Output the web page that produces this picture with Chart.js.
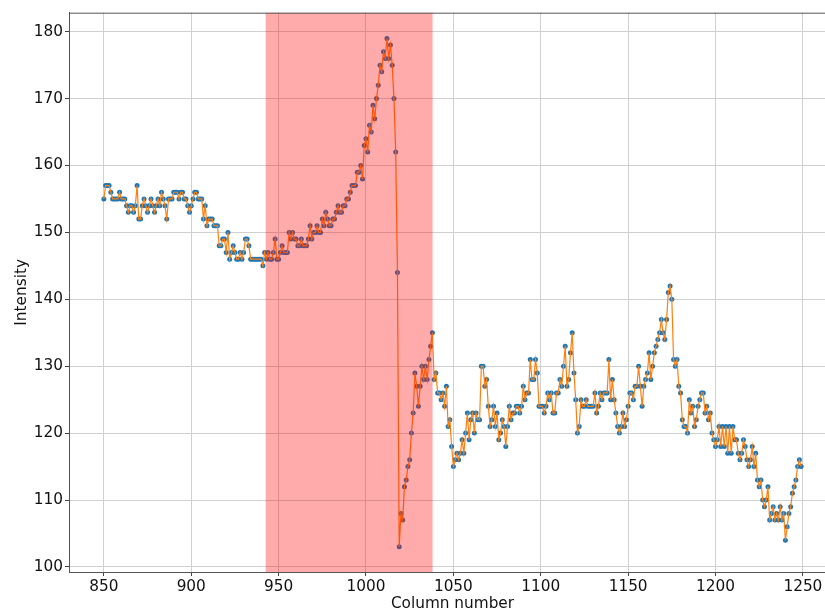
<!DOCTYPE html>
<html>
<head>
<meta charset="utf-8">
<script src="https://cdn.jsdelivr.net/npm/chart.js@4/dist/chart.umd.min.js"></script>
<style>
  html, body { margin: 0; padding: 0; background: #fff; overflow: hidden; }
  #wrap { width: 825px; height: 614px; overflow: hidden; }
</style>
</head>
<body>
<div id="wrap"><canvas id="chartCanvas" width="840" height="614"></canvas></div>
<script>
// first column of the profile, one value per column after that
const firstColumn = 850;

const intensity = [
  155, 157, 157, 157, 156, 155, 155, 155, 155, 156, // 850
  155, 155, 155, 154, 153, 154, 154, 153, 154, 157,
  152, 152, 154, 155, 154, 153, 154, 155, 154, 153,
  154, 155, 154, 156, 155, 154, 152, 155, 155, 155,
  156, 156, 156, 155, 156, 156, 155, 155, 154, 153,
  154, 155, 156, 156, 155, 155, 155, 152, 154, 151, // 900
  152, 152, 152, 151, 151, 151, 148, 148, 149, 149,
  147, 150, 146, 147, 148, 147, 146, 146, 147, 146,
  147, 149, 149, 148, 146, 146, 146, 146, 146, 146,
  146, 145, 147, 146, 147, 146, 146, 147, 149, 146,
  146, 147, 148, 147, 147, 147, 150, 149, 150, 149, // 950
  149, 148, 148, 149, 148, 148, 148, 149, 151, 149,
  150, 150, 151, 150, 150, 152, 151, 153, 152, 151,
  151, 152, 152, 153, 154, 153, 153, 154, 154, 155,
  155, 156, 157, 157, 157, 159, 159, 160, 158, 163,
  164, 162, 166, 165, 169, 167, 170, 172, 175, 174, // 1000
  177, 176, 179, 176, 178, 175, 170, 162, 144, 103,
  108, 107, 112, 113, 115, 116, 120, 123, 129, 127,
  124, 127, 130, 128, 130, 128, 131, 133, 135, 128,
  129, 126, 126, 125, 126, 124, 127, 121, 122, 118,
  115, 116, 117, 116, 117, 119, 117, 120, 123, 119, // 1050
  122, 123, 120, 123, 122, 122, 130, 130, 127, 128,
  124, 121, 122, 124, 121, 123, 119, 120, 122, 121,
  118, 121, 124, 122, 123, 123, 124, 124, 123, 124,
  127, 125, 126, 126, 131, 128, 128, 131, 129, 124,
  124, 124, 123, 124, 126, 125, 126, 123, 123, 126, // 1100
  126, 128, 127, 130, 133, 127, 128, 132, 135, 129,
  125, 120, 121, 125, 124, 124, 125, 124, 124, 124,
  124, 126, 123, 124, 126, 125, 126, 126, 126, 131,
  125, 128, 125, 123, 121, 120, 121, 123, 121, 122,
  124, 126, 126, 125, 127, 127, 130, 127, 124, 127, // 1150
  128, 129, 132, 128, 130, 132, 133, 134, 135, 137,
  135, 134, 137, 141, 142, 140, 131, 130, 131, 127,
  126, 122, 121, 121, 120, 125, 123, 124, 121, 122,
  124, 125, 126, 126, 123, 124, 122, 123, 120, 119,
  118, 119, 121, 118, 121, 118, 121, 117, 121, 117, // 1200
  121, 119, 119, 117, 116, 117, 119, 118, 116, 115,
  116, 118, 115, 117, 113, 112, 113, 110, 109, 110,
  112, 107, 108, 109, 107, 108, 107, 109, 107, 108,
  104, 106, 108, 109, 111, 112, 113, 115, 116, 115
];

const xTicks = [850, 900, 950, 1000, 1050, 1100, 1150, 1200, 1250];
const yTicks = [100, 110, 120, 130, 140, 150, 160, 170, 180];

// shaded column range
const spanStart = 942.6;
const spanEnd = 1038.1;

const points = intensity.map((v, i) => ({ x: firstColumn + i, y: v }));

const tickFont = { family: "DejaVu Sans", size: 15.3 };

const spanPlugin = {
  id: "span",
  afterDatasetsDraw(chart) {
    const { ctx, chartArea, scales } = chart;
    const x0 = scales.x.getPixelForValue(spanStart);
    const x1 = scales.x.getPixelForValue(spanEnd);
    ctx.save();
    ctx.fillStyle = "rgba(255, 0, 0, 0.33)";
    ctx.fillRect(x0, chartArea.top, x1 - x0, chartArea.bottom - chartArea.top);
    ctx.restore();
  },
  afterDraw(chart) {
    const { ctx, chartArea } = chart;
    ctx.save();
    ctx.strokeStyle = "#555";
    ctx.lineWidth = 1;
    ctx.beginPath();
    ctx.moveTo(chartArea.left, chartArea.top + 0.5);
    ctx.lineTo(chartArea.right, chartArea.top + 0.5);
    ctx.stroke();
    ctx.restore();
  }
};

new Chart(document.getElementById("chartCanvas").getContext("2d"), {
  type: "scatter",
  data: {
    datasets: [
      {
        label: "line",
        data: points,
        showLine: true,
        borderColor: "#ff7f0e",
        borderWidth: 1.2,
        pointRadius: 0,
        order: 0
      },
      {
        label: "points",
        data: points,
        showLine: false,
        backgroundColor: "#1f77b4",
        borderWidth: 0,
        pointRadius: 2.5,
        order: 1
      }
    ]
  },
  options: {
    responsive: false,
    animation: false,
    devicePixelRatio: 1,
    layout: { padding: { top: 12.7, right: 4, bottom: 0, left: 0 } },
    plugins: { legend: { display: false }, tooltip: { enabled: false } },
    scales: {
      x: {
        type: "linear",
        min: 830.05,
        max: 1268.95,
        afterBuildTicks: s => { s.ticks = xTicks.map(v => ({ value: v })); },
        afterFit: s => { s.height = 42; },
        ticks: { font: tickFont, color: "#111", padding: 2, maxRotation: 0, callback: v => String(v) },
        grid: { color: "#d0d0d0", lineWidth: 1, tickLength: 4, tickColor: "#444" },
        border: { color: "#555", width: 1 },
        title: { display: true, text: "Column number", font: tickFont, color: "#111", padding: { top: 0, bottom: 1 } }
      },
      y: {
        min: 99.24,
        max: 182.84,
        afterBuildTicks: s => { s.ticks = yTicks.map(v => ({ value: v })); },
        afterFit: s => { s.width = 69; },
        ticks: { font: tickFont, color: "#111", padding: 2, callback: v => String(v) },
        grid: { color: "#d0d0d0", lineWidth: 1, tickLength: 4, tickColor: "#444" },
        border: { color: "#555", width: 1 },
        title: { display: true, text: "Intensity", font: tickFont, color: "#111", padding: { top: 12.8, bottom: 0 } }
      }
    }
  },
  plugins: [spanPlugin]
});
</script>
</body>
</html>
